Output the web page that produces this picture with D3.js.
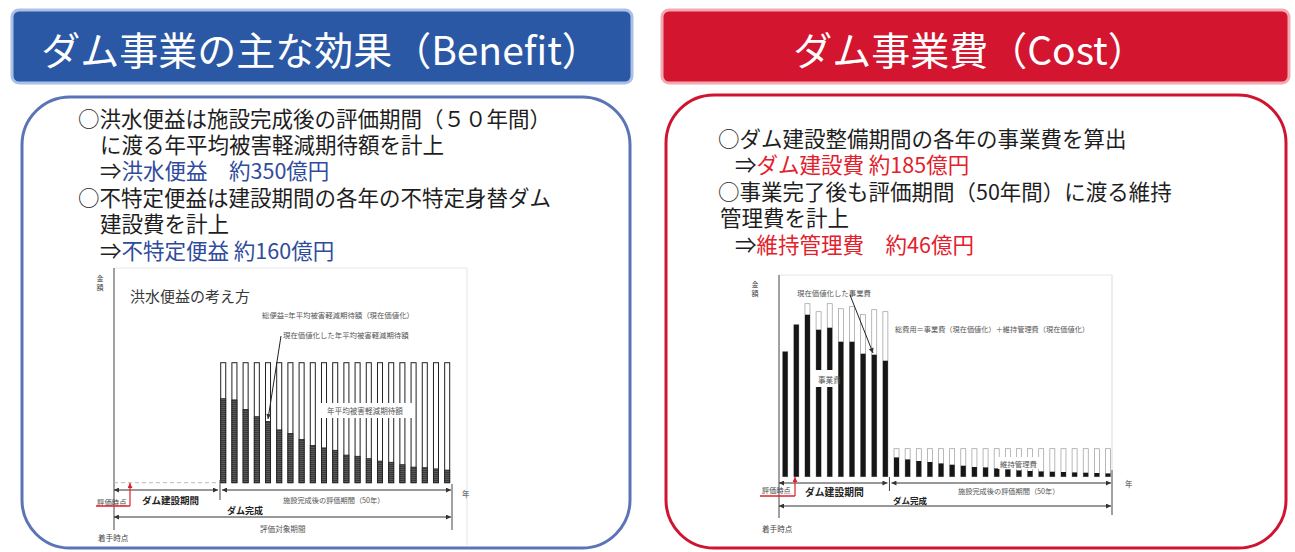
<!DOCTYPE html>
<html><head><meta charset="utf-8">
<script src="https://cdn.jsdelivr.net/npm/d3@7"></script>
<style>
html,body{margin:0;padding:0;background:#fff;}
svg{display:block;font-family:"Noto Sans CJK JP","Noto Sans",sans-serif;}
</style>
</head><body>
<svg id="c" width="1295" height="552"></svg>
<script>
// ---- Benefit side: years after completion, annual expected damage reduction ----
const benefitYears   = [1,2,3,4,5,6,7,8,9,10,11,12,13,14,15,16,17,18,19,20,21];
// nominal annual expected damage reduction (index, constant each year)
const benefitAnnual  = [100,100,100,100,100,100,100,100,100,100,100,100,100,100,100,100,100,100,100,100,100];
// same amount discounted to present value
const benefitPresent = [70,69,61,55,51,44,41,36,31,29,27,23,22,20,18,17,15,13,12.5,11.5,10.5];

// ---- Cost side: 10 construction years followed by 20 maintenance years ----
const costYears   = [1,2,3,4,5,6,7,8,9,10,11,12,13,14,15,16,17,18,19,20,21,22,23,24,25,26,27,28,29,30];
const costNominal = [125,152,173,165,173,168,170,162,167,165,
                     28,28,28,28,28,28,28,28,28,28,28,28,28,28,28,28,28,28,28,28];
const costPresent = [125,152,162,147,149,135,135,123,122,116,
                     19.3,17.3,15.7,14.7,13.3,12,11,9.7,9.3,8.3,7.3,6.3,5.7,5.3,5,4.7,4.3,4,3.7,3.3];
const constructionYears = 10;

// ---- Panel headings and explanatory notes ----
const benefitTitle = "ダム事業の主な効果（Benefit）";
const costTitle    = "ダム事業費（Cost）";
const benefitNotes = [
  [["○洪水便益は施設完成後の評価期間（５０年間）", 0]],
  [["に渡る年平均被害軽減期待額を計上", 0]],
  [["⇒", 0], ["洪水便益　約350億円", 1]],
  [["○不特定便益は建設期間の各年の不特定身替ダム", 0]],
  [["建設費を計上", 0]],
  [["⇒", 0], ["不特定便益 約160億円", 1]]
];
const costNotes = [
  [["○ダム建設整備期間の各年の事業費を算出", 0]],
  [["⇒", 0], ["ダム建設費 約185億円", 1]],
  [["○事業完了後も評価期間（50年間）に渡る維持", 0]],
  [["管理費を計上", 0]],
  [["⇒", 0], ["維持管理費　約46億円", 1]]
];

const svg = d3.select("#c");
const defs = svg.append("defs");

function marker(id, color, w, h) {
  defs.append("marker").attr("id", id)
    .attr("viewBox", "0 0 10 10").attr("refX", 10).attr("refY", 5)
    .attr("markerWidth", w).attr("markerHeight", h)
    .attr("markerUnits", "userSpaceOnUse")
    .attr("orient", "auto-start-reverse")
    .append("path").attr("d", "M0,0L10,5L0,10Z").attr("fill", color);
}
marker("ah", "#333", 7, 5);
marker("ahr", "#e0202a", 6, 5);

// horizontal hatch used for discounted benefit bars
const pat = defs.append("pattern").attr("id", "hatch")
  .attr("patternUnits", "userSpaceOnUse").attr("width", 4).attr("height", 2);
pat.append("rect").attr("width", 4).attr("height", 2).attr("fill", "#5a5a5a");
pat.append("rect").attr("width", 4).attr("height", 1).attr("fill", "#3a3a3a");

// ---------- headers ----------
function header(x, w, fill, edge, title, cx) {
  svg.append("rect").attr("x", x).attr("y", 10).attr("width", w).attr("height", 73)
    .attr("rx", 7).attr("fill", fill).attr("stroke", edge).attr("stroke-width", 3);
  svg.append("text").attr("x", cx).attr("y", 48)
    .attr("text-anchor", "middle").attr("dominant-baseline", "central")
    .attr("font-size", 39).attr("fill", "#fff").text(title);
}
header(12, 620, "#2b58a5", "#a9c1e6", benefitTitle, 321);
header(662, 627, "#d31530", "#f2a9b2", costTitle, 970);

// ---------- panels ----------
svg.append("rect").attr("x", 22).attr("y", 97).attr("width", 608).attr("height", 451)
  .attr("rx", 48).attr("fill", "#fff").attr("stroke", "#5b74b6").attr("stroke-width", 3);
svg.append("rect").attr("x", 666).attr("y", 95).attr("width", 620).attr("height", 453)
  .attr("rx", 48).attr("fill", "#fff").attr("stroke", "#cf1430").attr("stroke-width", 3);

// ---------- notes: each coloured run is its own text, placed after the previous one ----------
function notes(lines, x0, y0, step, indents, emColor) {
  lines.forEach((segs, i) => {
    let x = x0 + indents[i];
    segs.forEach(([s, em]) => {
      const t = svg.append("text").attr("x", x).attr("y", y0 + i * step)
        .attr("dominant-baseline", "central").attr("font-size", 21.5)
        .attr("fill", em ? emColor : "#1e1e1e").text(s);
      x += t.node().getComputedTextLength();
    });
  });
}
notes(benefitNotes, 78, 117, 26.4, [0, 22, 22, 0, 22, 22], "#2f4b9c");
notes(costNotes, 718, 137, 26.5, [0, 17, 0, 2, 17], "#e3202b");

// ---------- small label helper ----------
function label(x, y, s, size, opts = {}) {
  return svg.append("text").attr("x", x).attr("y", y)
    .attr("dominant-baseline", "central")
    .attr("text-anchor", opts.anchor || "start")
    .attr("font-size", size).attr("font-weight", opts.bold ? 700 : 400)
    .attr("fill", opts.fill || "#555").text(s);
}
function line(x1, y1, x2, y2, o = {}) {
  const l = svg.append("line").attr("x1", x1).attr("y1", y1).attr("x2", x2).attr("y2", y2)
    .attr("stroke", o.stroke || "#333").attr("stroke-width", o.w || 1);
  if (o.dash) l.attr("stroke-dasharray", o.dash);
  if (o.start) l.attr("marker-start", `url(#${o.start})`);
  if (o.end) l.attr("marker-end", `url(#${o.end})`);
  return l;
}

// ================= Benefit chart =================
const xb = d3.scaleBand().domain(benefitYears).range([220.7, 449.7]).paddingInner(0.55).paddingOuter(0);
const yb = d3.scaleLinear().domain([0, 100]).range([482.7, 362.7]);

// faint frame of the figure
line(114, 268, 467, 268, {stroke: "#e6e6e6"});
line(467, 268, 467, 545, {stroke: "#e3e3e3"});

label(130, 295, "洪水便益の考え方", 15, {fill: "#3a3a3a"});
label(100, 278, "金", 7, {anchor: "middle", fill: "#444"});
label(100, 287, "額", 7, {anchor: "middle", fill: "#444"});

const gb = svg.append("g");
gb.selectAll("rect.nom").data(benefitYears).join("rect").attr("class", "nom")
  .attr("x", d => xb(d)).attr("width", xb.bandwidth())
  .attr("y", (d, i) => yb(benefitAnnual[i])).attr("height", (d, i) => yb(0) - yb(benefitAnnual[i]))
  .attr("fill", "#fff").attr("stroke", "#222").attr("stroke-width", 1);
gb.selectAll("rect.pv").data(benefitYears).join("rect").attr("class", "pv")
  .attr("x", d => xb(d)).attr("width", xb.bandwidth())
  .attr("y", (d, i) => yb(benefitPresent[i])).attr("height", (d, i) => yb(0) - yb(benefitPresent[i]))
  .attr("fill", "url(#hatch)").attr("stroke", "#222").attr("stroke-width", 0.8);

// y axis and empty construction period baseline
line(114, 268, 114, 530, {stroke: "#444"});
line(114, yb(0), 219, yb(0), {stroke: "#bbb", dash: "4,3"});

label(262, 314, "総便益=年平均被害軽減期待額（現在価値化）", 7.4);
label(283, 334, "現在価値化した年平均被害軽減期待額", 7.4);
line(281, 336, 268, 419, {stroke: "#222", end: "ah"});

svg.append("rect").attr("x", 320).attr("y", 403).attr("width", 93).attr("height", 15).attr("fill", "#fff");
label(327, 410.5, "年平均被害軽減期待額", 7.6);

// period arrows
line(114, 490, 218, 490, {start: "ah", end: "ah"});
line(222, 490, 451, 490, {start: "ah", end: "ah"});
line(220, 480, 220, 500, {stroke: "#444"});
line(452, 484, 452, 530, {stroke: "#444"});
line(114, 517, 451, 517, {start: "ah", end: "ah"});
label(462, 493, "年", 7.5, {fill: "#444"});
label(142, 500, "ダム建設期間", 9.5, {bold: true, fill: "#222"});
label(283, 500, "施設完成後の評価期間（50年）", 7.2);
label(227, 510, "ダム完成", 9, {bold: true, fill: "#222"});
label(260, 528, "評価対象期間", 7.6);
label(98, 537, "着手時点", 7.6, {fill: "#444"});
label(97, 501, "評価時点", 7.4, {fill: "#444"});
line(96, 506, 130, 506, {stroke: "#e0202a", w: 1.4});
line(130, 506, 130, 483, {stroke: "#e0202a", w: 1.2, end: "ahr"});

// ================= Cost chart =================
const xc = d3.scaleBand().domain(costYears).range([782.7, 1110.5]).paddingInner(0.55).paddingOuter(0);
const yc = d3.scaleLinear().domain([0, 200]).range([476.7, 276.7]);

line(779, 275, 1112, 275, {stroke: "#e6e6e6"});
line(1112, 275, 1112, 470, {stroke: "#dcdcdc"});
line(1112, 470, 1112, 515, {stroke: "#444"});

label(755, 284, "金", 7, {anchor: "middle", fill: "#444"});
label(755, 293, "額", 7, {anchor: "middle", fill: "#444"});

const gc = svg.append("g");
gc.selectAll("rect.nom").data(costYears).join("rect").attr("class", "nom")
  .attr("x", d => xc(d)).attr("width", xc.bandwidth())
  .attr("y", (d, i) => yc(costNominal[i])).attr("height", (d, i) => yc(0) - yc(costNominal[i]))
  .attr("fill", "#fff").attr("stroke", "#9a9a9a").attr("stroke-width", 0.7);
gc.selectAll("rect.pv").data(costYears).join("rect").attr("class", "pv")
  .attr("x", d => xc(d)).attr("width", xc.bandwidth())
  .attr("y", (d, i) => yc(costPresent[i])).attr("height", (d, i) => yc(0) - yc(costPresent[i]))
  .attr("fill", "#161616");

line(779, 275, 779, 518, {stroke: "#444"});

label(797, 292, "現在価値化した事業費", 7.4);
line(850, 295, 873, 353, {stroke: "#222", end: "ah"});
label(895, 329, "総費用＝事業費（現在価値化）＋維持管理費（現在価値化）", 7.2);

const bx = xc(costYears[3]) - 2;
svg.append("rect").attr("x", bx).attr("y", 370).attr("width", xc(costYears[4]) + xc.bandwidth() + 2 - bx)
  .attr("height", 17).attr("fill", "#fff");
label(818, 379, "事業費", 7.6);

svg.append("rect").attr("x", 998).attr("y", 457).attr("width", 42).attr("height", 12).attr("fill", "#fff");
label(1000, 463, "維持管理費", 7.4);

const split = (xc(costYears[constructionYears - 1]) + xc(costYears[constructionYears])) / 2 + 1;
line(779, 483, split - 2, 483, {start: "ah", end: "ah"});
line(split + 2, 483, 1111, 483, {start: "ah", end: "ah"});
line(split, 477, split, 491, {stroke: "#444"});
line(779, 506, 1111, 506, {start: "ah", end: "ah"});
label(1125, 483, "年", 7.5, {fill: "#444"});
label(805, 492, "ダム建設期間", 9.8, {bold: true, fill: "#222"});
label(958, 491, "施設完成後の評価期間（50年）", 7.2);
label(893, 500, "ダム完成", 8.5, {bold: true, fill: "#222"});
label(762, 528, "着手時点", 7.6, {fill: "#444"});
label(762, 490, "評価時点", 7.2, {fill: "#444"});
line(760, 496, 795, 496, {stroke: "#e0202a", w: 1.4});
line(795, 496, 795, 477, {stroke: "#e0202a", w: 1.2, end: "ahr"});
</script>
</body></html>
